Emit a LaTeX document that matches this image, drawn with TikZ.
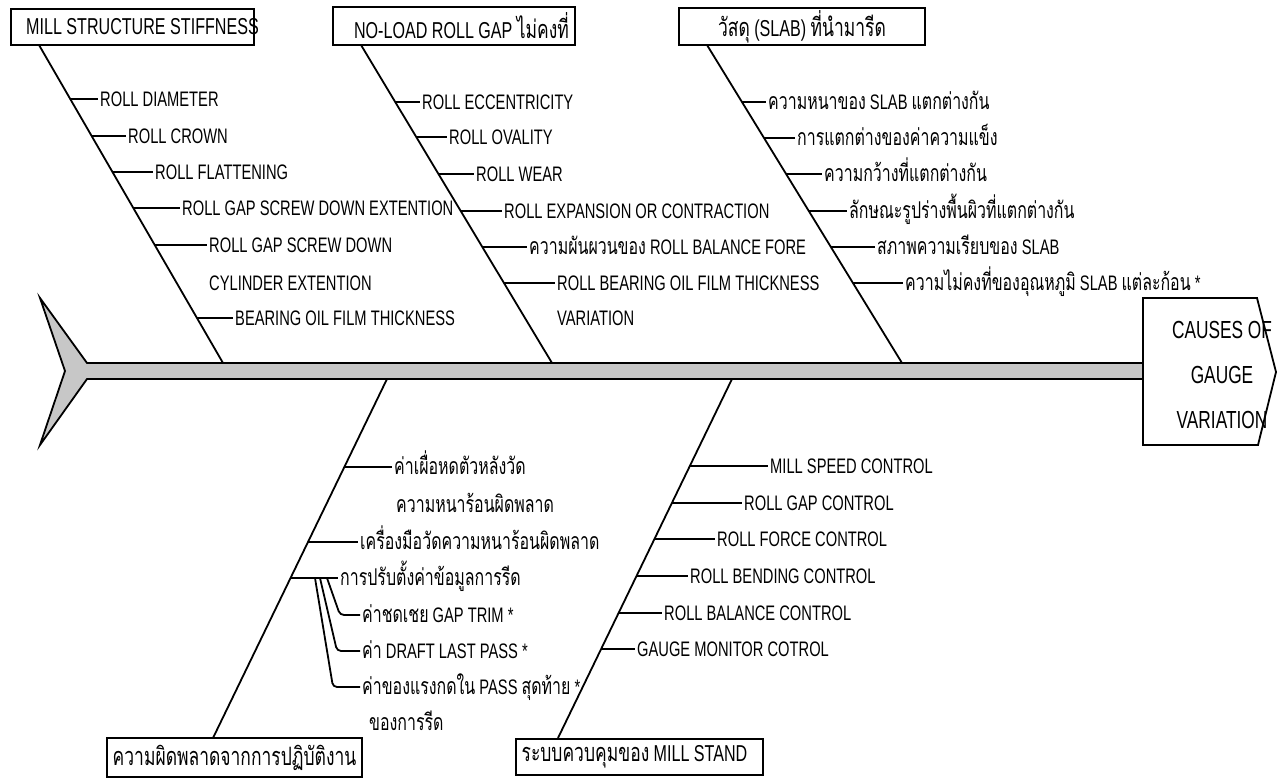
\documentclass[tikz,border=0pt]{standalone}
\usepackage{fontspec}
\setmainfont{Liberation Sans}[FakeStretch=0.7]
\newfontfamily\thf[Script=Thai,FakeStretch=0.69,Scale=1.1]{Loma}
\newcommand\thx[1]{{\thf #1}}
\definecolor{spinegray}{gray}{0.78}
\tikzset{
  boneline/.style={line width=1.8pt},
  twigline/.style={line width=1.8pt},
  lbl/.style={anchor=base west, inner xsep=2pt, inner ysep=0pt, yshift=-7.5pt, font=\fontsize{21}{25}\selectfont},
  titlebox/.style={draw, line width=1.8pt, inner sep=0pt, font=\fontsize{23}{27}\selectfont},
  headtext/.style={align=center, inner sep=0pt, font=\fontsize{24.7}{45}\selectfont},
}
\newcommand\twig[5]{%
  \coordinate (#1t) at (intersection of #2s--#2e and 0,#3--1300,#3);
  \node[lbl] (#1) at (#4,#3) {#5};
  \draw[twigline] (#1t) -- (#1.west |- #1t);
}
\begin{document}
\begin{tikzpicture}[x=1pt,y=-1pt]
\useasboundingbox (0,0) rectangle (1277,783);

% spine with tail
\draw[line width=1.8pt, fill=spinegray, line join=miter]
  (40,298) -- (87,363) -- (1143,363) -- (1143,379) -- (87,379) -- (40,445) -- (65,371) -- cycle;
% head
\draw[line width=1.8pt, fill=white]
  (1143,298) -- (1257,298) -- (1276,372) -- (1258,445) -- (1143,445) -- cycle;
\node[headtext] (head) at (1222,375) {CAUSES OF\\GAUGE\\VARIATION};

% title boxes
\node[titlebox, minimum width=243pt, minimum height=36pt] (box1) at (132.5,27) {\makebox[0pt]{\kern20pt MILL STRUCTURE STIFFNESS}};
\node[titlebox, minimum width=242pt, minimum height=38pt] (box2) at (454,26) {\makebox[0pt]{\kern15pt NO-LOAD ROLL GAP \thx{ไม่คงที่}}};
\node[titlebox, minimum width=246pt, minimum height=37pt] (box3) at (802,26.5) {\makebox[0pt]{\thx{วัสดุ} (SLAB) \thx{ที่นำมารีด}}};
\node[titlebox, minimum width=255pt, minimum height=39pt] (box4) at (234.5,757.5) {\makebox[0pt]{\thx{ความผิดพลาดจากการปฏิบัติงาน}}};
\node[titlebox, minimum width=247pt, minimum height=36pt] (box5) at (639.5,757) {\makebox[0pt]{\kern-10pt \thx{ระบบควบคุมของ} MILL STAND}};

% bones
\coordinate (b1s) at (39,45);   \coordinate (b1e) at (223,363);
\coordinate (b2s) at (361,45);  \coordinate (b2e) at (552,363);
\coordinate (b3s) at (707,45);  \coordinate (b3e) at (902,363);
\coordinate (b4s) at (387,379); \coordinate (b4e) at (213,738);
\coordinate (b5s) at (732,379); \coordinate (b5e) at (558,738);
\draw[boneline] (b1s) -- (b1e);
\draw[boneline] (b2s) -- (b2e);
\draw[boneline] (b3s) -- (b3e);
\draw[boneline] (b4s) -- (b4e);
\draw[boneline] (b5s) -- (b5e);

% bone 1
\twig{a1}{b1}{99}{98}{ROLL DIAMETER}
\twig{a2}{b1}{136}{126}{ROLL CROWN}
\twig{a3}{b1}{172}{153}{ROLL FLATTENING}
\twig{a4}{b1}{208}{180}{ROLL GAP SCREW DOWN EXTENTION}
\twig{a5}{b1}{245}{207}{ROLL GAP SCREW DOWN}
\node[lbl] (a5b) at (207,283) {CYLINDER EXTENTION};
\twig{a6}{b1}{318}{233}{BEARING OIL FILM THICKNESS}

% bone 2
\twig{c1}{b2}{102}{420}{ROLL ECCENTRICITY}
\twig{c2}{b2}{137}{447}{ROLL OVALITY}
\twig{c3}{b2}{174}{474}{ROLL WEAR}
\twig{c4}{b2}{211}{502}{ROLL EXPANSION OR CONTRACTION}
\twig{c5}{b2}{247}{527}{\thx{ความผันผวนของ} ROLL BALANCE FORE}
\twig{c6}{b2}{283}{555}{ROLL BEARING OIL FILM THICKNESS}
\node[lbl] (c6b) at (555,318) {VARIATION};

% bone 3
\twig{d1}{b3}{102}{766}{\thx{ความหนาของ} SLAB \thx{แตกต่างกัน}}
\twig{d2}{b3}{138}{795}{\thx{การแตกต่างของค่าความแข็ง}}
\twig{d3}{b3}{174}{822}{\thx{ความกว้างที่แตกต่างกัน}}
\twig{d4}{b3}{211}{847}{\thx{ลักษณะรูปร่างพื้นผิวที่แตกต่างกัน}}
\twig{d5}{b3}{247}{875}{\thx{สภาพความเรียบของ} SLAB}
\twig{d6}{b3}{283}{903}{\thx{ความไม่คงที่ของอุณหภูมิ} SLAB \thx{แต่ละก้อน} *}

% bone 4
\twig{e1}{b4}{467}{392}{\thx{ค่าเผื่อหดตัวหลังวัด}}
\node[lbl] (e1b) at (394,505) {\thx{ความหนาร้อนผิดพลาด}};
\twig{e2}{b4}{542}{358}{\thx{เครื่องมือวัดความหนาร้อนผิดพลาด}}
\twig{e3}{b4}{578}{338}{\thx{การปรับตั้งค่าข้อมูลการรีด}}
\coordinate (f1t) at (327,578); \coordinate (f1k) at (340,615);
\coordinate (f2t) at (320,578); \coordinate (f2k) at (337,651);
\coordinate (f3t) at (315,578); \coordinate (f3k) at (333,687);
\node[lbl] (f1) at (360,615) {\thx{ค่าชดเชย} GAP TRIM *};
\node[lbl] (f2) at (360,651) {\thx{ค่า} DRAFT LAST PASS *};
\node[lbl] (f3) at (360,687) {\thx{ค่าของแรงกดใน} PASS \thx{สุดท้าย} *};
\node[lbl] (f3b) at (367,723) {\thx{ของการรีด}};
\draw[twigline, rounded corners=4pt] (f1t) -- (f1k) -- (f1.west |- f1k);
\draw[twigline, rounded corners=4pt] (f2t) -- (f2k) -- (f2.west |- f2k);
\draw[twigline, rounded corners=4pt] (f3t) -- (f3k) -- (f3.west |- f3k);

% bone 5
\twig{g1}{b5}{466}{768}{MILL SPEED CONTROL}
\twig{g2}{b5}{503}{742}{ROLL GAP CONTROL}
\twig{g3}{b5}{539}{715}{ROLL FORCE CONTROL}
\twig{g4}{b5}{576}{688}{ROLL BENDING CONTROL}
\twig{g5}{b5}{613}{662}{ROLL BALANCE CONTROL}
\twig{g6}{b5}{649}{635}{GAUGE MONITOR COTROL}
\end{tikzpicture}
\end{document}
